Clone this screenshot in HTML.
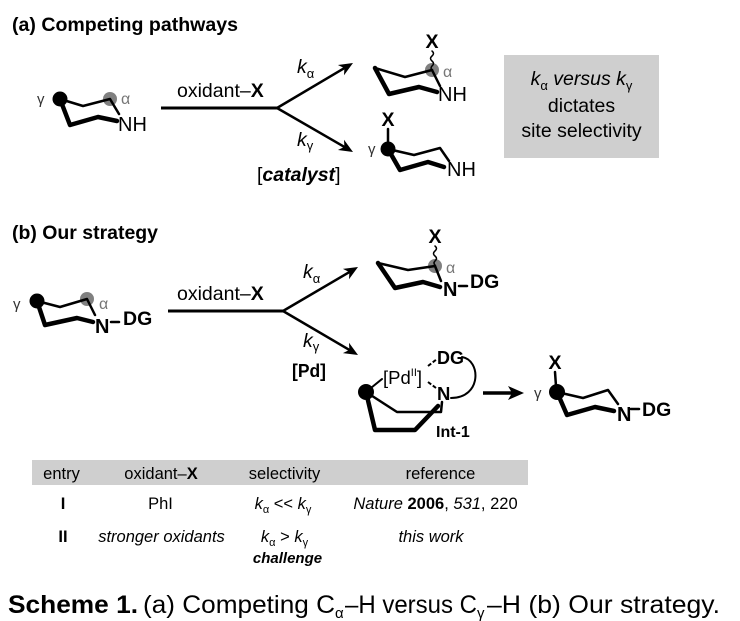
<!DOCTYPE html>
<html><head><meta charset="utf-8"><style>
html,body{margin:0;padding:0;background:#fff;}
svg{display:block;font-family:"Liberation Sans",Arial,sans-serif;}
</style></head><body>
<svg width="740" height="621" viewBox="0 0 740 621" xmlns="http://www.w3.org/2000/svg">
<rect width="740" height="621" fill="#fff"/>

<!-- ===== (a) ===== -->
<text x="12" y="31" font-size="19" font-weight="bold" textLength="226" lengthAdjust="spacingAndGlyphs">(a) Competing pathways</text>

<!-- left piperidine (a) -->
<circle cx="110" cy="99" r="7" fill="#808080"/>
<g stroke="#000" fill="none" stroke-linejoin="round" stroke-linecap="round">
<polyline points="60,99 83,106 110,99 119,114" stroke-width="2.5"/>
<polyline points="60,99 70,125 98,117 117,121" stroke-width="4.5"/>
</g>
<circle cx="60" cy="99" r="7.5" fill="#000"/>
<text x="37" y="104" font-size="15" fill="#333">γ</text>
<text x="121" y="104" font-size="16" fill="#777">α</text>
<text x="118" y="131" font-size="20">NH</text>

<!-- arrows (a) -->
<g stroke="#000" fill="none">
<line x1="161" y1="108" x2="278" y2="108" stroke-width="3"/>
<polyline points="344.4,68.1 277,108 344.4,146.9" stroke-width="2.5" stroke-linejoin="round"/>
</g>
<polygon points="353,63 344,75.3 344.4,68.1 337.9,65" fill="#000"/>
<polygon points="353,152 337.9,150 344.4,146.9 344,139.7" fill="#000"/>
<text x="177" y="97" font-size="19.5">oxidant–<tspan font-weight="bold">X</tspan></text>
<text x="297" y="73" font-size="19.5" font-style="italic">k<tspan font-size="13" dy="5" font-style="normal">α</tspan></text>
<text x="297" y="146" font-size="19.5" font-style="italic">k<tspan font-size="13" dy="4" font-style="normal">γ</tspan></text>
<text x="257" y="181" font-size="19.5">[<tspan font-weight="bold" font-style="italic">catalyst</tspan>]</text>

<!-- top product (a) -->
<circle cx="432" cy="70" r="7" fill="#808080"/>
<text x="432" y="48" font-size="19.5" font-weight="bold" text-anchor="middle">X</text>
<g stroke="#000" fill="none" stroke-linejoin="round" stroke-linecap="round">
<path d="M432 51 q3 2.5 0 5 q-3 2.5 0 5 q3 2.5 0 5 q-2 2 0 4" stroke-width="1.5"/>
<polyline points="432,70 405,77 375,68" stroke-width="2.5"/>
<line x1="432" y1="70" x2="440" y2="86" stroke-width="2.5"/>
<polyline points="375,68 389,94 419,87 437,92" stroke-width="4.5"/>
</g>
<text x="443" y="77" font-size="16" fill="#777">α</text>
<text x="438" y="101" font-size="20">NH</text>

<!-- bottom product (a) -->
<text x="388" y="126" font-size="19.5" font-weight="bold" text-anchor="middle">X</text>
<g stroke="#000" fill="none" stroke-linejoin="round" stroke-linecap="round">
<line x1="388" y1="129" x2="388" y2="143" stroke-width="2.5"/>
<polyline points="388,149 414,155 440,148 449,161" stroke-width="2.5"/>
<polyline points="388,149 400,170 428,162 444,167" stroke-width="4.5"/>
</g>
<circle cx="388" cy="149" r="7.5" fill="#000"/>
<text x="368" y="154" font-size="15" fill="#333">γ</text>
<text x="447" y="176" font-size="20">NH</text>

<!-- grey box -->
<rect x="504" y="55" width="155" height="103" fill="#cfcfcf"/>
<text x="581.5" y="85" font-size="19.5" font-style="italic" text-anchor="middle">k<tspan font-size="13" dy="5" font-style="normal">α</tspan><tspan dy="-5"> versus k</tspan><tspan font-size="13" dy="5" font-style="normal">γ</tspan></text>
<text x="581.5" y="112" font-size="19.5" text-anchor="middle">dictates</text>
<text x="581.5" y="137" font-size="19.5" text-anchor="middle">site selectivity</text>

<!-- ===== (b) ===== -->
<text x="12" y="239" font-size="19" font-weight="bold" textLength="146" lengthAdjust="spacingAndGlyphs">(b) Our strategy</text>

<!-- left piperidine (b) -->
<circle cx="87" cy="299" r="7" fill="#808080"/>
<g stroke="#000" fill="none" stroke-linejoin="round" stroke-linecap="round">
<polyline points="37,301 60,307 87,299 95,315" stroke-width="2.5"/>
<polyline points="37,301 45,325 77,318 93,322" stroke-width="4.5"/>
<line x1="111" y1="322" x2="119" y2="322" stroke-width="2.5"/>
</g>
<circle cx="37" cy="301" r="7.5" fill="#000"/>
<text x="13" y="309" font-size="15" fill="#333">γ</text>
<text x="99" y="309" font-size="16" fill="#777">α</text>
<text x="95" y="333" font-size="20" font-weight="bold">N</text>
<text x="123" y="325" font-size="19.5" font-weight="bold">DG</text>

<!-- arrows (b) -->
<g stroke="#000" fill="none">
<line x1="168" y1="311" x2="284" y2="311" stroke-width="3"/>
<polyline points="349.4,272.1 283,311 349.4,349.9" stroke-width="2.5" stroke-linejoin="round"/>
</g>
<polygon points="358,267 349,279.3 349.4,272.1 342.9,268.9" fill="#000"/>
<polygon points="358,355 342.9,353.1 349.4,349.9 349,342.7" fill="#000"/>
<text x="177" y="300" font-size="19.5">oxidant–<tspan font-weight="bold">X</tspan></text>
<text x="303" y="278" font-size="19.5" font-style="italic">k<tspan font-size="13" dy="5" font-style="normal">α</tspan></text>
<text x="303" y="347" font-size="19.5" font-style="italic">k<tspan font-size="13" dy="4" font-style="normal">γ</tspan></text>
<text x="292" y="377" font-size="18" font-weight="bold" textLength="34" lengthAdjust="spacingAndGlyphs">[Pd]</text>

<!-- top product (b) -->
<circle cx="435" cy="266" r="7" fill="#808080"/>
<text x="435" y="243" font-size="19.5" font-weight="bold" text-anchor="middle">X</text>
<g stroke="#000" fill="none" stroke-linejoin="round" stroke-linecap="round">
<path d="M435 246 q3 2.5 0 5 q-3 2.5 0 5 q3 2.5 0 5 q-2 2 0 4" stroke-width="1.5"/>
<polyline points="435,266 408,270 378,263" stroke-width="2.5"/>
<line x1="435" y1="266" x2="441" y2="281" stroke-width="2.5"/>
<polyline points="378,263 395,288 423,282 440,287" stroke-width="4.5"/>
<line x1="459" y1="286" x2="467" y2="286" stroke-width="2.5"/>
</g>
<text x="446" y="273" font-size="16" fill="#777">α</text>
<text x="443" y="296" font-size="20" font-weight="bold">N</text>
<text x="470" y="288" font-size="19.5" font-weight="bold">DG</text>

<!-- Int-1 -->
<g stroke="#000" fill="none" stroke-linejoin="round" stroke-linecap="round">
<line x1="366" y1="392" x2="382" y2="379" stroke-width="2"/>
<line x1="428" y1="366" x2="437" y2="359" stroke-width="2" stroke-dasharray="4,2" stroke-linecap="butt"/>
<line x1="428" y1="382" x2="436" y2="388" stroke-width="2" stroke-dasharray="4,2" stroke-linecap="butt"/>
<path d="M462 357 C481 360, 482 398, 451 398" stroke-width="2"/>
<polyline points="366,392 375,430 415,430 438,406" stroke-width="4.5"/>
<polyline points="366,392 397,412 441,412 442,402" stroke-width="2.5"/>
</g>
<circle cx="366" cy="392" r="8" fill="#000"/>
<text x="383" y="384" font-size="18.5">[Pd<tspan font-size="11" dy="-8">II</tspan><tspan dy="8">]</tspan></text>
<text x="437" y="364" font-size="18" font-weight="bold">DG</text>
<text x="437" y="400" font-size="18.5" font-weight="bold">N</text>
<text x="436" y="437" font-size="16" font-weight="bold">Int-1</text>

<!-- forward arrow -->
<line x1="483" y1="393" x2="512" y2="393" stroke="#000" stroke-width="3.5"/>
<polygon points="524,393 508,386 512,393 508,400" fill="#000"/>

<!-- final product -->
<text x="555" y="369" font-size="19.5" font-weight="bold" text-anchor="middle">X</text>
<g stroke="#000" fill="none" stroke-linejoin="round" stroke-linecap="round">
<line x1="555" y1="372" x2="556" y2="386" stroke-width="2.5"/>
<polyline points="557,392 583,398 608,390 618,404" stroke-width="2.5"/>
<polyline points="557,392 567,415 595,407 614,411" stroke-width="4.5"/>
<line x1="631" y1="409" x2="639" y2="409" stroke-width="2.5"/>
</g>
<circle cx="557" cy="392" r="8" fill="#000"/>
<text x="534" y="398" font-size="15" fill="#333">γ</text>
<text x="617" y="421" font-size="20" font-weight="bold">N</text>
<text x="642" y="416" font-size="19.5" font-weight="bold">DG</text>

<!-- ===== table ===== -->
<rect x="32" y="460" width="496" height="25" fill="#cfcfcf"/>
<g font-size="16.5" text-anchor="middle">
<text x="61.5" y="479">entry</text>
<text x="161" y="479">oxidant–<tspan font-weight="bold">X</tspan></text>
<text x="284.5" y="479">selectivity</text>
<text x="440.5" y="479">reference</text>

<text x="63" y="509" font-weight="bold">I</text>
<text x="160.5" y="509">PhI</text>
<text x="283" y="509"><tspan font-style="italic">k</tspan><tspan font-size="11" dy="4">α</tspan><tspan dy="-4"> &lt;&lt; </tspan><tspan font-style="italic">k</tspan><tspan font-size="11" dy="4">γ</tspan></text>
<text x="435.5" y="509"><tspan font-style="italic">Nature</tspan> <tspan font-weight="bold">2006</tspan>, <tspan font-style="italic">531</tspan>, 220</text>

<text x="63" y="542" font-weight="bold">II</text>
<text x="161.5" y="542" font-style="italic">stronger oxidants</text>
<text x="284.5" y="542"><tspan font-style="italic">k</tspan><tspan font-size="11" dy="4">α</tspan><tspan dy="-4"> &gt; </tspan><tspan font-style="italic">k</tspan><tspan font-size="11" dy="4">γ</tspan></text>
<text x="287.5" y="563" font-size="15" font-weight="bold" font-style="italic">challenge</text>
<text x="431" y="542" font-style="italic">this work</text>
</g>

<!-- ===== caption ===== -->
<text x="8" y="613" font-size="25" font-weight="bold" textLength="130" lengthAdjust="spacingAndGlyphs">Scheme 1.</text>
<text x="143" y="613" font-size="25" textLength="192" lengthAdjust="spacingAndGlyphs">(a) Competing C</text>
<text x="335" y="618" font-size="15">α</text>
<text x="345" y="613" font-size="25" textLength="132" lengthAdjust="spacingAndGlyphs">–H versus C</text>
<text x="477" y="618" font-size="15">γ</text>
<text x="487" y="613" font-size="25" textLength="233" lengthAdjust="spacingAndGlyphs">–H (b) Our strategy.</text>
</svg>
</body></html>
